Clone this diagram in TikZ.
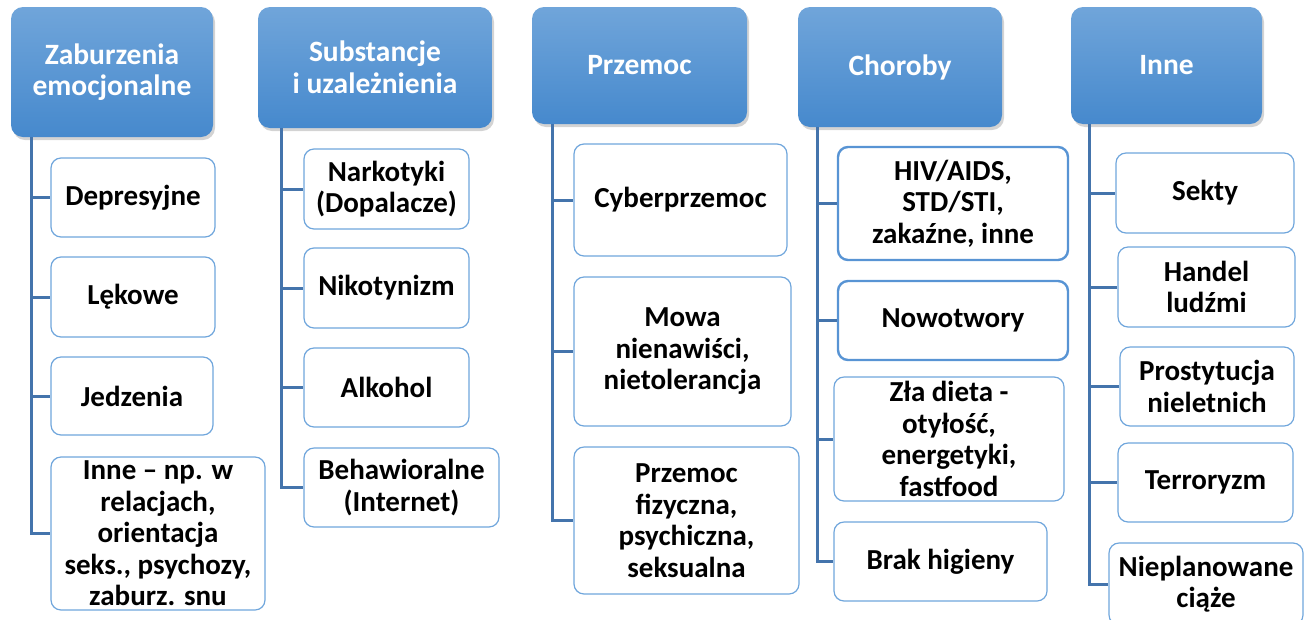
\documentclass[tikz,border=0pt]{standalone}
\usepackage{fontspec}
\setmainfont{Carlito}
\usetikzlibrary{shadows}

\definecolor{hdrtop}{RGB}{112,165,218}
\definecolor{hdrbot}{RGB}{70,137,205}
\definecolor{linkcol}{RGB}{68,116,172}
\definecolor{boxcol}{RGB}{112,166,220}
\definecolor{boxdark}{RGB}{88,148,212}

\begin{document}
\begin{tikzpicture}[x=1pt, y=-1pt,
  hdr/.style={rounded corners=12pt, top color=hdrtop, bottom color=hdrbot, text=white,
    drop shadow={opacity=.35, shadow xshift=2pt, shadow yshift=-3pt},
    align=center, inner sep=0pt, font=\fontsize{29.5}{31.5}\selectfont\bfseries},
  item/.style={draw=boxcol, line width=1.2pt, rounded corners=10pt, fill=white,
    align=center, inner sep=0pt, font=\fontsize{29}{31.5}\selectfont\bfseries},
  link/.style={draw=linkcol, line width=3pt}]

 \useasboundingbox (0,0) rectangle (1305,619);

 % headers
 \node (h1) at (112,72) [hdr, minimum width=202, minimum height=130] {Zaburzenia\\emocjonalne};
 \node (h2) at (375,67.5) [hdr, minimum width=234, minimum height=121] {Substancje\\i uzależnienia};
 \node (h3) at (639.5,65.5) [hdr, minimum width=215, minimum height=117] {Przemoc};
 \node (h4) at (900,67) [hdr, minimum width=204, minimum height=120] {Choroby};
 \node (h5) at (1166.5,65.5) [hdr, minimum width=191, minimum height=117] {Inne};

 % column 1
 \node (a1) at (133,197.5) [item, minimum width=164, minimum height=79] {Depresyjne};
 \node (a2) at (133,297) [item, minimum width=164, minimum height=80] {Lękowe};
 \node (a3) at (132,396) [item, minimum width=162, minimum height=78] {Jedzenia};
 \node (a4) at (158,533.5) [item, minimum width=214, minimum height=153] {Inne -- np. w\\relacjach,\\orientacja\\seks., psychozy,\\zaburz. snu};

 % column 2
 \node (b1) at (386.5,189) [item, minimum width=165, minimum height=80] {Narkotyki\\(Dopalacze)};
 \node (b2) at (386.5,288) [item, minimum width=165, minimum height=80] {Nikotynizm};
 \node (b3) at (386.5,387.5) [item, minimum width=165, minimum height=79] {Alkohol};
 \node (b4) at (401.5,487.5) [item, minimum width=195, minimum height=79] {Behawioralne\\(Internet)};

 % column 3
 \node (c1) at (680.5,200) [item, minimum width=213, minimum height=112] {Cyberprzemoc};
 \node (c2) at (682.5,351.5) [item, minimum width=217, minimum height=149] {Mowa\\nienawiści,\\nietolerancja};
 \node (c3) at (686.5,520.5) [item, minimum width=225, minimum height=147] {Przemoc\\fizyczna,\\psychiczna,\\seksualna};

 % column 4
 \node (d1) at (953,203.5) [item, draw=boxdark, line width=2.4pt, minimum width=230, minimum height=113] {HIV/AIDS,\\STD/STI,\\zakaźne, inne};
 \node (d2) at (953,320.5) [item, draw=boxdark, line width=2.4pt, minimum width=230, minimum height=79] {Nowotwory};
 \node (d3) at (949,439) [item, minimum width=230, minimum height=124] {Zła dieta -\\otyłość,\\energetyki,\\fastfood};
 \node (d4) at (940.5,561.5) [item, minimum width=213, minimum height=79] {Brak higieny};

 % column 5
 \node (e1) at (1205,193) [item, minimum width=178, minimum height=80] {Sekty};
 \node (e2) at (1206.5,287) [item, minimum width=177, minimum height=80] {Handel\\ludźmi};
 \node (e3) at (1207,386.5) [item, minimum width=174, minimum height=79] {Prostytucja\\nieletnich};
 \node (e4) at (1205.5,482.5) [item, minimum width=175, minimum height=79] {Terroryzm};
 \node (e5) at (1206,584) [item, minimum width=194, minimum height=82] {Nieplanowane\\ciąże};

 % connectors
 \foreach \c in {a1,a2,a3,a4} \draw [link] ([xshift=21pt]h1.south west) |- (\c.west);
 \foreach \c in {b1,b2,b3,b4} \draw [link] ([xshift=24pt]h2.south west) |- (\c.west);
 \foreach \c in {c1,c2,c3} \draw [link] ([xshift=21pt]h3.south west) |- (\c.west);
 \foreach \c in {d1,d2,d3,d4} \draw [link] ([xshift=20pt]h4.south west) |- (\c.west);
 \foreach \c in {e1,e2,e3,e4,e5} \draw [link] ([xshift=19pt]h5.south west) |- (\c.west);

\end{tikzpicture}
\end{document}
